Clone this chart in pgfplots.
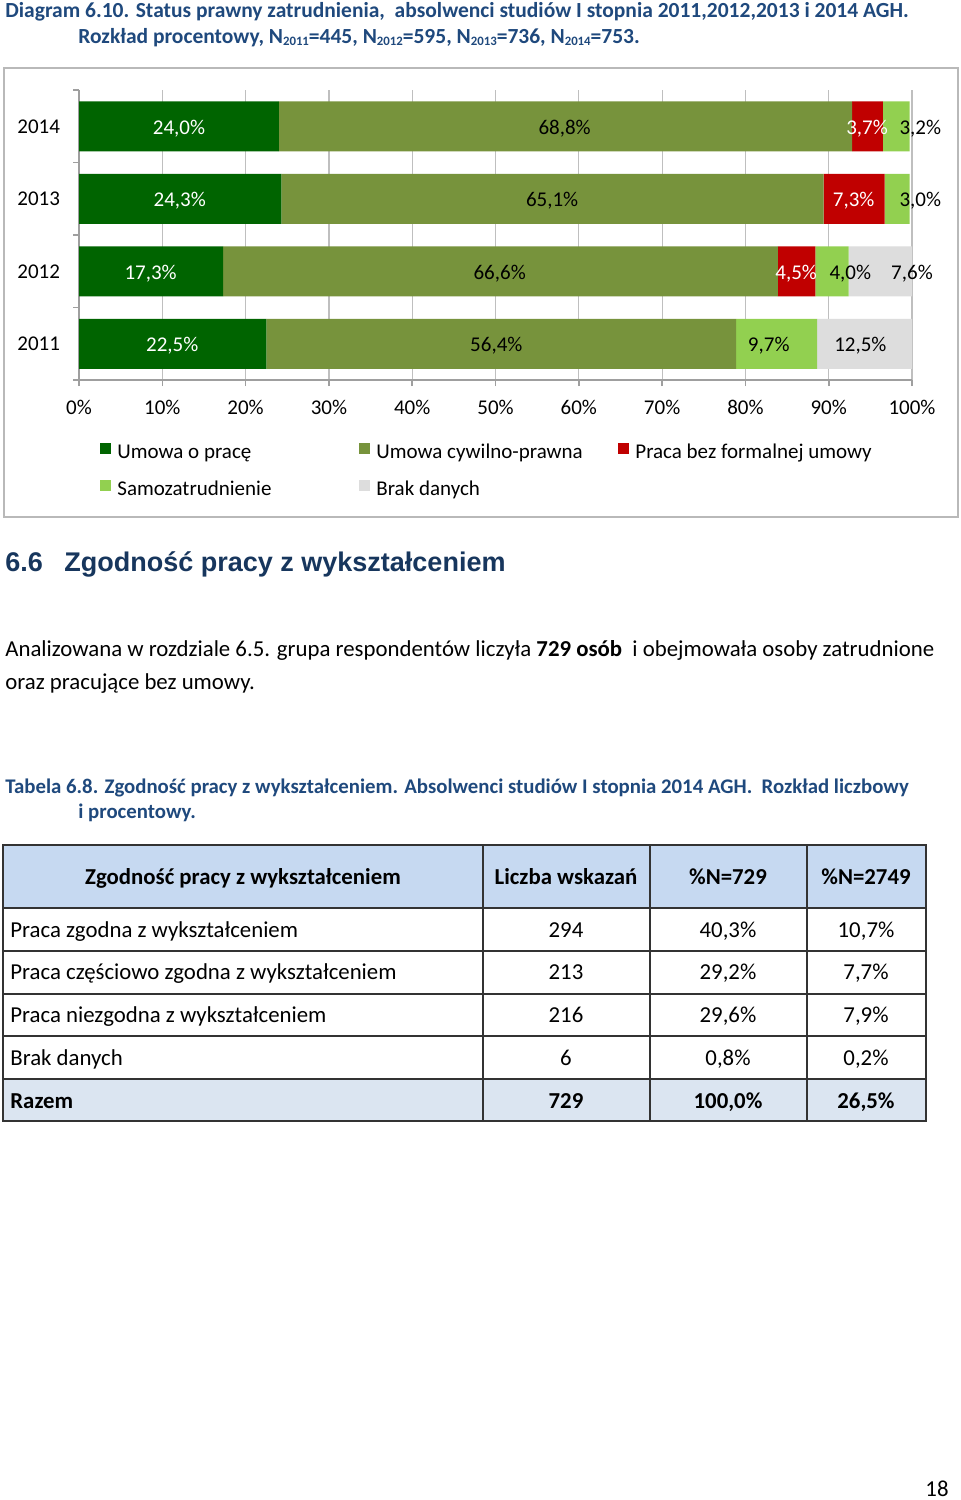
\documentclass[border=0pt]{standalone}
\usepackage{fontspec}
\setmainfont{Carlito}
\newfontfamily\arialfont{Liberation Sans}
\usepackage{pgfplots}
\pgfplotsset{compat=1.18}
\definecolor{dkgreen}{HTML}{006400}
\definecolor{olivec}{HTML}{77933C}
\definecolor{dred}{HTML}{C00000}
\definecolor{lgreen}{HTML}{92D050}
\definecolor{lgray}{HTML}{DDDDDD}
\definecolor{capblue}{HTML}{1F497D}
\definecolor{headblue}{HTML}{17365D}
\definecolor{hdrfill}{HTML}{C6D9F1}
\definecolor{sumfill}{HTML}{DBE5F1}
\newcommand\fsA{\fontsize{10.5}{12.6}\selectfont}
\newcommand\fsB{\fontsize{11.4}{13.7}\selectfont}
\newcommand\fsT{\fontsize{10.75}{13}\selectfont}
\newcommand\fsC{\fontsize{10.4}{13}\selectfont}
\newcommand\sub[1]{\raisebox{-1.3pt}{\fontsize{6.4}{7}\selectfont\bfseries #1}}
\pgfplotsset{sq legend/.style={legend image code/.code={\fill[##1] (0pt,-0.6pt) rectangle (5.5pt,4.9pt);}}}
\tikzset{lbl/.style={font=\fsA, inner sep=0pt, yshift=-1pt}}
\begin{document}
\begin{tikzpicture}
\begin{scope}[x=0.5pt,y=-0.5pt]
\path[use as bounding box, fill=white] (0,0) rectangle (960,1500);
\draw[gray!55, line width=0.9pt] (4,68) rectangle (958,517);
% titles
\node[anchor=base west, inner sep=0, text=capblue, font=\fsT\bfseries] at (5,17)
  {Diagram 6.10. Status prawny zatrudnienia,\ \ absolwenci studiów I stopnia 2011,2012,2013 i 2014 AGH.};
\node[anchor=base west, inner sep=0, text=capblue, font=\fsT\bfseries] at (78,43)
  {Rozkład procentowy, N\sub{2011}=445, N\sub{2012}=595, N\sub{2013}=736, N\sub{2014}=753.};
% heading
\node[anchor=base west, inner sep=0, text=headblue, font=\arialfont\bfseries\fontsize{13.5}{16}\selectfont] at (5,571) {6.6};
\node[anchor=base west, inner sep=0, text=headblue, font=\arialfont\bfseries\fontsize{13.5}{16}\selectfont] at (64,571) {Zgodność pracy z wykształceniem};
% paragraph
\node[anchor=base west, inner sep=0, font=\fsB] at (5,656)
  {Analizowana w rozdziale 6.5. grupa respondentów liczyła \textbf{729 osób}\ \ i obejmowała osoby zatrudnione};
\node[anchor=base west, inner sep=0, font=\fsB] at (5,689) {oraz pracujące bez umowy.};
% caption
\node[anchor=base west, inner sep=0, text=capblue, font=\fsC\bfseries] at (5,793)
  {Tabela 6.8. Zgodność pracy z wykształceniem. Absolwenci studiów I stopnia 2014 AGH.\ \ Rozkład liczbowy};
\node[anchor=base west, inner sep=0, text=capblue, font=\fsC\bfseries] at (78,818) {i procentowy.};
% table
\fill[hdrfill] (3,845) rectangle (926,908);
\fill[sumfill] (3,1079) rectangle (926,1121);
\foreach \yy in {908,951,994,1036,1079} \draw[black!80, line width=0.8pt] (3,\yy) -- (926,\yy);
\foreach \xx in {483,650,807} \draw[black!80, line width=0.8pt] (\xx,845) -- (\xx,1121);
\draw[black!80, line width=0.8pt] (3,845) rectangle (926,1121);
\begin{scope}[every node/.style={inner sep=0, font=\fsB}]
\node[anchor=base, font=\fsB\bfseries] at (243,884) {Zgodność pracy z wykształceniem};
\node[anchor=base, font=\fsB\bfseries] at (566,884) {Liczba wskazań};
\node[anchor=base, font=\fsB\bfseries] at (728,884) {\%N=729};
\node[anchor=base, font=\fsB\bfseries] at (866,884) {\%N=2749};
\node[anchor=base west] at (10,937) {Praca zgodna z wykształceniem};
\node[anchor=base] at (566,937) {294};
\node[anchor=base] at (728,937) {40,3\%};
\node[anchor=base] at (866,937) {10,7\%};
\node[anchor=base west] at (10,979) {Praca częściowo zgodna z wykształceniem};
\node[anchor=base] at (566,979) {213};
\node[anchor=base] at (728,979) {29,2\%};
\node[anchor=base] at (866,979) {7,7\%};
\node[anchor=base west] at (10,1022) {Praca niezgodna z wykształceniem};
\node[anchor=base] at (566,1022) {216};
\node[anchor=base] at (728,1022) {29,6\%};
\node[anchor=base] at (866,1022) {7,9\%};
\node[anchor=base west] at (10,1065) {Brak danych};
\node[anchor=base] at (566,1065) {6};
\node[anchor=base] at (728,1065) {0,8\%};
\node[anchor=base] at (866,1065) {0,2\%};
\node[anchor=base west, font=\fsB\bfseries] at (10,1108) {Razem};
\node[anchor=base, font=\fsB\bfseries] at (566,1108) {729};
\node[anchor=base, font=\fsB\bfseries] at (728,1108) {100,0\%};
\node[anchor=base, font=\fsB\bfseries] at (866,1108) {26,5\%};
\node[anchor=base] at (937,1496) {18};
\end{scope}
\end{scope}
\begin{axis}[
  at={(39.5pt,-190pt)}, anchor=south west,
  scale only axis, width=416.5pt, height=145pt,
  xbar stacked, bar width=25pt,
  xmin=0, xmax=100, ymin=0.5, ymax=4.5,
  clip mode=individual,
  axis x line*=bottom, axis y line*=left,
  axis line style={-, gray!75, line width=0.8pt},
  xtick={0,10,...,100},
  /pgf/number format/assume math mode=true,
  xticklabel={\pgfmathprintnumber{\tick}\%},
  ytick={1,2,3,4}, yticklabels={2011,2012,2013,2014},
  minor ytick={0.5,1.5,2.5,3.5,4.5},
  tick align=outside,
  major tick length=3pt, minor tick length=3pt,
  y tick style={draw=none},
  minor y tick style={draw=gray!75, line width=0.8pt},
  x tick style={gray!75, line width=0.8pt},
  xmajorgrids, grid style={gray!50, line width=0.6pt},
  tick label style={font=\fsA},
  xticklabel style={yshift=-3.5pt},
  yticklabel style={xshift=-3pt},
  legend columns=3,
  legend cell align=left,
  legend style={at={(0.0252,-0.2138)}, anchor=north west, draw=none, fill=none, inner sep=0pt,
    font=\fsA, row sep=8pt,
    nodes={inner sep=0pt, text height=8pt, text depth=2.5pt},
    /tikz/every odd column/.append style={column sep=3pt}},
]
\addplot[fill=dkgreen, draw=none, sq legend] coordinates {(24.0,4) (24.3,3) (17.3,2) (22.5,1)};
\addlegendentry{\makebox[121pt][l]{Umowa o pracę}}
\addplot[fill=olivec, draw=none, sq legend] coordinates {(68.8,4) (65.1,3) (66.6,2) (56.4,1)};
\addlegendentry{\makebox[121pt][l]{Umowa cywilno-prawna}}
\addplot[fill=dred, draw=none, sq legend] coordinates {(3.7,4) (7.3,3) (4.5,2) (0,1)};
\addlegendentry{Praca bez formalnej umowy}
\addplot[fill=lgreen, draw=none, sq legend] coordinates {(3.2,4) (3.0,3) (4.0,2) (9.7,1)};
\addlegendentry{\makebox[121pt][l]{Samozatrudnienie}}
\addplot[fill=lgray, draw=none, sq legend] coordinates {(0,4) (0,3) (7.6,2) (12.5,1)};
\addlegendentry{\makebox[121pt][l]{Brak danych}}
% label anchor coordinates
\coordinate (L1) at (axis cs:12.0,4);
\coordinate (L2) at (axis cs:58.3,4);
\coordinate (L3) at (axis cs:94.6,4);
\coordinate (L4) at (axis cs:101.0,4);
\coordinate (L5) at (axis cs:12.1,3);
\coordinate (L6) at (axis cs:56.8,3);
\coordinate (L7) at (axis cs:93.0,3);
\coordinate (L8) at (axis cs:101.0,3);
\coordinate (L9) at (axis cs:8.6,2);
\coordinate (L10) at (axis cs:50.5,2);
\coordinate (L11) at (axis cs:86.1,2);
\coordinate (L12) at (axis cs:92.6,2);
\coordinate (L13) at (axis cs:100.0,2);
\coordinate (L14) at (axis cs:11.2,1);
\coordinate (L15) at (axis cs:50.1,1);
\coordinate (L16) at (axis cs:82.8,1);
\coordinate (L17) at (axis cs:93.8,1);
\end{axis}
\node[lbl, text=white] at (L1) {24,0\%};
\node[lbl] at (L2) {68,8\%};
\node[lbl, text=white] at (L3) {3,7\%};
\node[lbl] at (L4) {3,2\%};
\node[lbl, text=white] at (L5) {24,3\%};
\node[lbl] at (L6) {65,1\%};
\node[lbl, text=white] at (L7) {7,3\%};
\node[lbl] at (L8) {3,0\%};
\node[lbl, text=white] at (L9) {17,3\%};
\node[lbl] at (L10) {66,6\%};
\node[lbl, text=white] at (L11) {4,5\%};
\node[lbl] at (L12) {4,0\%};
\node[lbl] at (L13) {7,6\%};
\node[lbl, text=white] at (L14) {22,5\%};
\node[lbl] at (L15) {56,4\%};
\node[lbl] at (L16) {9,7\%};
\node[lbl] at (L17) {12,5\%};
\end{tikzpicture}
\end{document}
